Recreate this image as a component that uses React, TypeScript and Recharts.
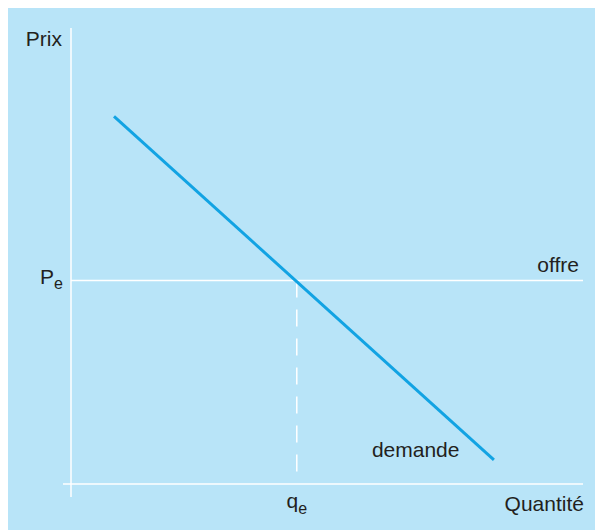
import React from "react";
import { LineChart, Line, XAxis, YAxis, ReferenceLine, ReferenceDot } from "recharts";

// Demand curve (quantity q, price p) in arbitrary units 0..100
const demandQ = [8.4, 82.6];
const demandP = [80.6, 5.3];
const demand = demandQ.map((q, i) => ({ q, p: demandP[i] }));

// Equilibrium
const QE = 44.1;
const PE = 44.6;

// Labels
const priceTitle = "Prix";
const quantityTitle = "Quantité";
const supplyLabel = "offre";
const demandLabel = "demande";
const qTick = ["q", "e"];
const pTick = ["P", "e"];

const BG = "#b8e4f8";
const LINE = "#12a3e3";
const TEXT = "#231f20";
const FONT = "'Liberation Sans', Arial, Helvetica, sans-serif";
const FS = 21;
const SUB = 16;

const XTick = (props: any) => {
  const { x, y } = props;
  return (
    <text x={x} y={y + 24} textAnchor="middle" fill={TEXT} fontFamily={FONT} fontSize={FS}>
      <tspan>{qTick[0]}</tspan>
      <tspan dy={6} fontSize={SUB}>{qTick[1]}</tspan>
    </text>
  );
};

const YTick = (props: any) => {
  const { x, y } = props;
  return (
    <text x={x - 8} y={y + 3} textAnchor="end" fill={TEXT} fontFamily={FONT} fontSize={FS}>
      <tspan>{pTick[0]}</tspan>
      <tspan dy={5} fontSize={SUB}>{pTick[1]}</tspan>
    </text>
  );
};

export default function App() {
  return (
    <div style={{ width: 595, height: 522, background: BG }}>
      <LineChart
        width={595}
        height={522}
        data={demand}
        margin={{ top: 20, right: 20, left: 23, bottom: 16 }}
      >
        <XAxis
          type="number"
          dataKey="q"
          domain={[0, 100]}
          ticks={[QE]}
          tick={<XTick />}
          axisLine={false}
          tickLine={false}
          tickSize={0}
          tickMargin={0}
          height={30}
          allowDataOverflow
        />
        <YAxis
          type="number"
          dataKey="p"
          domain={[0, 100]}
          ticks={[PE]}
          tick={<YTick />}
          axisLine={false}
          tickLine={false}
          tickSize={0}
          tickMargin={0}
          width={40}
          allowDataOverflow
        />
        {/* y axis */}
        <ReferenceLine
          segment={[{ x: 0, y: 100 }, { x: 0, y: -2.85 }]}
          stroke="#ffffff"
          strokeWidth={1.5}
          ifOverflow="visible"
          label={(p: any) => (
            <text x={p.viewBox.x - 9} y={p.viewBox.y + 18} textAnchor="end" fill={TEXT} fontFamily={FONT} fontSize={FS}>
              {priceTitle}
            </text>
          )}
        />
        {/* x axis */}
        <ReferenceLine
          segment={[{ x: -1.56, y: 0 }, { x: 100, y: 0 }]}
          stroke="#ffffff"
          strokeWidth={1.5}
          ifOverflow="visible"
          label={(p: any) => (
            <text x={p.viewBox.x + p.viewBox.width + 1} y={p.viewBox.y + 27} textAnchor="end" fill={TEXT} fontFamily={FONT} fontSize={FS}>
              {quantityTitle}
            </text>
          )}
        />
        {/* supply */}
        <ReferenceLine
          segment={[{ x: 0, y: PE }, { x: 100, y: PE }]}
          stroke="#ffffff"
          strokeWidth={1.5}
          ifOverflow="visible"
          label={(p: any) => (
            <text x={p.viewBox.x + p.viewBox.width - 4} y={p.viewBox.y - 9} textAnchor="end" fill={TEXT} fontFamily={FONT} fontSize={FS}>
              {supplyLabel}
            </text>
          )}
        />
        {/* equilibrium quantity */}
        <ReferenceLine
          segment={[{ x: QE, y: PE }, { x: QE, y: 1.3 }]}
          stroke="#ffffff"
          strokeWidth={1.5}
          strokeDasharray="17 12"
          ifOverflow="visible"
        />
        <Line
          type="linear"
          dataKey="p"
          stroke={LINE}
          strokeWidth={3}
          dot={false}
          activeDot={false}
          isAnimationActive={false}
        />
        <ReferenceDot
          x={demand[demand.length - 1].q}
          y={demand[demand.length - 1].p}
          r={0}
          fill="none"
          stroke="none"
          ifOverflow="visible"
          label={(p: any) => (
            <text x={p.viewBox.x - 122} y={p.viewBox.y - 3} textAnchor="start" fill={TEXT} fontFamily={FONT} fontSize={FS}>
              {demandLabel}
            </text>
          )}
        />
      </LineChart>
    </div>
  );
}
